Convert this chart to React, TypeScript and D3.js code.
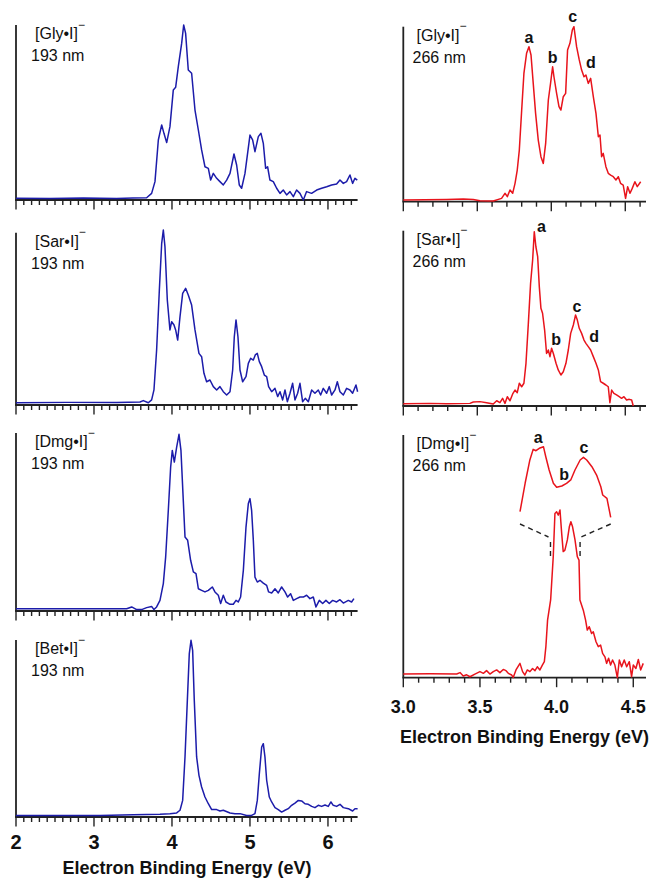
import * as d3 from 'd3';

type Pt = [number, number];

// photoelectron spectra, [binding energy (eV), relative intensity]
const gly193: Pt[] = [
  [2.0, 0.01], [2.436, 0.008], [2.863, 0.011], [3.29, 0.008], [3.5, 0.011], [3.675, 0.013],
  [3.739, 0.038], [3.782, 0.105], [3.825, 0.343], [3.868, 0.429], [3.897, 0.381], [3.932, 0.328],
  [3.974, 0.419], [4.017, 0.629], [4.047, 0.644], [4.081, 0.762], [4.124, 0.895], [4.15, 1.0],
  [4.175, 0.952], [4.209, 0.743], [4.252, 0.724], [4.295, 0.514], [4.338, 0.4], [4.38, 0.286],
  [4.423, 0.19], [4.466, 0.181], [4.496, 0.114], [4.53, 0.152], [4.573, 0.124], [4.615, 0.105],
  [4.658, 0.086], [4.701, 0.114], [4.744, 0.152], [4.795, 0.263], [4.829, 0.2], [4.863, 0.086],
  [4.893, 0.067], [4.936, 0.152], [5.0, 0.371], [5.034, 0.343], [5.064, 0.276], [5.107, 0.362],
  [5.141, 0.381], [5.171, 0.324], [5.201, 0.181], [5.226, 0.19], [5.256, 0.114], [5.299, 0.105],
  [5.342, 0.067], [5.385, 0.038], [5.427, 0.057], [5.47, 0.029], [5.513, 0.048], [5.556, 0.019],
  [5.598, 0.057], [5.641, 0.038], [5.684, 0.0], [5.726, 0.048], [5.79, 0.038], [5.855, 0.057],
  [5.919, 0.067], [5.983, 0.076], [6.047, 0.086], [6.111, 0.091], [6.154, 0.114], [6.197, 0.095],
  [6.239, 0.105], [6.282, 0.143], [6.316, 0.095], [6.346, 0.124], [6.376, 0.114],
];

const sar193: Pt[] = [
  [2.0, 0.013], [2.65, 0.015], [3.29, 0.015], [3.59, 0.017], [3.632, 0.025], [3.697, 0.013],
  [3.739, 0.029], [3.769, 0.086], [3.803, 0.314], [3.838, 0.657], [3.868, 0.924], [3.889, 1.0],
  [3.91, 0.905], [3.94, 0.6], [3.974, 0.429], [3.996, 0.476], [4.026, 0.457], [4.047, 0.429],
  [4.073, 0.371], [4.103, 0.505], [4.137, 0.638], [4.175, 0.667], [4.209, 0.629], [4.252, 0.571],
  [4.295, 0.429], [4.346, 0.295], [4.38, 0.276], [4.41, 0.181], [4.444, 0.133], [4.487, 0.143],
  [4.53, 0.105], [4.573, 0.086], [4.615, 0.105], [4.658, 0.076], [4.701, 0.057], [4.744, 0.076],
  [4.778, 0.2], [4.799, 0.39], [4.821, 0.486], [4.846, 0.39], [4.872, 0.2], [4.906, 0.133],
  [4.949, 0.162], [4.979, 0.238], [5.009, 0.267], [5.043, 0.257], [5.068, 0.286], [5.094, 0.295],
  [5.12, 0.248], [5.15, 0.219], [5.184, 0.171], [5.214, 0.162], [5.239, 0.105], [5.278, 0.076],
  [5.321, 0.095], [5.355, 0.048], [5.385, 0.076], [5.419, 0.029], [5.449, 0.086], [5.479, 0.019],
  [5.513, 0.067], [5.547, 0.124], [5.577, 0.029], [5.611, 0.067], [5.641, 0.124], [5.675, 0.019],
  [5.709, 0.038], [5.748, 0.019], [5.791, 0.086], [5.833, 0.067], [5.876, 0.086], [5.906, 0.057],
  [5.94, 0.095], [5.983, 0.067], [6.017, 0.105], [6.047, 0.057], [6.09, 0.086], [6.12, 0.133],
  [6.154, 0.076], [6.197, 0.057], [6.239, 0.095], [6.282, 0.086], [6.316, 0.067], [6.359, 0.114],
  [6.38, 0.076],
];

const dmg193: Pt[] = [
  [2.0, 0.013], [2.65, 0.013], [3.376, 0.013], [3.419, 0.013], [3.483, 0.023], [3.547, 0.008],
  [3.611, 0.008], [3.675, 0.019], [3.739, 0.026], [3.769, 0.008], [3.803, 0.023], [3.846, 0.06],
  [3.889, 0.155], [3.919, 0.306], [3.953, 0.57], [3.983, 0.815], [4.004, 0.909], [4.03, 0.843],
  [4.06, 0.928], [4.09, 1.0], [4.115, 0.909], [4.145, 0.626], [4.167, 0.419], [4.201, 0.4],
  [4.239, 0.287], [4.274, 0.221], [4.308, 0.211], [4.338, 0.126], [4.38, 0.117], [4.423, 0.108],
  [4.466, 0.117], [4.517, 0.136], [4.551, 0.108], [4.594, 0.089], [4.624, 0.042], [4.658, 0.089],
  [4.692, 0.051], [4.744, 0.038], [4.786, 0.038], [4.821, 0.06], [4.85, 0.051], [4.88, 0.079],
  [4.915, 0.23], [4.949, 0.475], [4.979, 0.608], [5.0, 0.636], [5.021, 0.57], [5.043, 0.4],
  [5.064, 0.192], [5.094, 0.164], [5.128, 0.174], [5.171, 0.158], [5.214, 0.145], [5.239, 0.108],
  [5.278, 0.102], [5.321, 0.126], [5.363, 0.102], [5.406, 0.136], [5.449, 0.108], [5.483, 0.079],
  [5.521, 0.098], [5.556, 0.06], [5.598, 0.07], [5.641, 0.079], [5.684, 0.079], [5.726, 0.089],
  [5.769, 0.07], [5.812, 0.079], [5.846, 0.023], [5.889, 0.06], [5.932, 0.042], [5.974, 0.06],
  [6.017, 0.042], [6.06, 0.06], [6.111, 0.051], [6.154, 0.064], [6.197, 0.045], [6.261, 0.06],
  [6.303, 0.051], [6.333, 0.07],
];

const bet193: Pt[] = [
  [2.0, 0.009], [3.077, 0.009], [3.504, 0.013], [3.846, 0.015], [3.974, 0.019], [4.06, 0.023],
  [4.103, 0.038], [4.137, 0.094], [4.167, 0.34], [4.197, 0.66], [4.222, 0.925], [4.244, 1.0],
  [4.265, 0.943], [4.286, 0.66], [4.316, 0.34], [4.346, 0.236], [4.38, 0.17], [4.423, 0.113],
  [4.466, 0.075], [4.509, 0.042], [4.573, 0.042], [4.615, 0.034], [4.658, 0.038], [4.744, 0.023],
  [4.808, 0.019], [4.872, 0.019], [4.957, 0.009], [5.021, 0.009], [5.064, 0.019], [5.094, 0.094],
  [5.12, 0.245], [5.15, 0.396], [5.171, 0.415], [5.192, 0.34], [5.214, 0.208], [5.248, 0.113],
  [5.278, 0.085], [5.321, 0.053], [5.363, 0.042], [5.406, 0.028], [5.449, 0.038], [5.491, 0.047],
  [5.534, 0.066], [5.577, 0.079], [5.62, 0.094], [5.662, 0.091], [5.705, 0.075], [5.748, 0.072],
  [5.791, 0.06], [5.833, 0.053], [5.876, 0.066], [5.919, 0.06], [5.962, 0.068], [6.004, 0.06],
  [6.038, 0.085], [6.068, 0.066], [6.111, 0.06], [6.154, 0.072], [6.197, 0.053], [6.261, 0.047],
  [6.316, 0.034], [6.346, 0.047], [6.38, 0.047],
];

const gly266: Pt[] = [
  [3.0, 0.01], [3.293, 0.013], [3.405, 0.015], [3.473, 0.013], [3.518, 0.006], [3.608, 0.004],
  [3.664, 0.019], [3.687, 0.048], [3.703, 0.029], [3.721, 0.067], [3.739, 0.048], [3.755, 0.105],
  [3.77, 0.181], [3.784, 0.295], [3.8, 0.524], [3.815, 0.733], [3.833, 0.848], [3.849, 0.886],
  [3.863, 0.838], [3.878, 0.676], [3.894, 0.505], [3.912, 0.352], [3.93, 0.257], [3.946, 0.219],
  [3.962, 0.333], [3.98, 0.581], [3.995, 0.676], [4.009, 0.771], [4.018, 0.714], [4.036, 0.619],
  [4.052, 0.543], [4.065, 0.524], [4.081, 0.6], [4.097, 0.619], [4.11, 0.867], [4.126, 0.905],
  [4.142, 0.981], [4.153, 1.0], [4.171, 0.886], [4.189, 0.81], [4.205, 0.752], [4.221, 0.714],
  [4.234, 0.724], [4.25, 0.676], [4.266, 0.705], [4.284, 0.6], [4.302, 0.505], [4.318, 0.371],
  [4.329, 0.381], [4.34, 0.257], [4.351, 0.276], [4.369, 0.2], [4.385, 0.162], [4.401, 0.152],
  [4.419, 0.143], [4.437, 0.124], [4.453, 0.143], [4.468, 0.105], [4.486, 0.095], [4.502, 0.019],
  [4.516, 0.086], [4.532, 0.048], [4.547, 0.076], [4.565, 0.114], [4.581, 0.086], [4.604, 0.114],
];

const sar266: Pt[] = [
  [3.0, 0.013], [3.18, 0.015], [3.293, 0.013], [3.45, 0.015], [3.473, 0.023], [3.518, 0.025],
  [3.563, 0.019], [3.608, 0.011], [3.631, 0.03], [3.653, 0.019], [3.671, 0.044], [3.687, 0.015],
  [3.703, 0.053], [3.721, 0.03], [3.739, 0.069], [3.755, 0.091], [3.77, 0.076], [3.784, 0.13],
  [3.8, 0.11], [3.815, 0.13], [3.829, 0.244], [3.845, 0.472], [3.86, 0.7], [3.874, 0.834],
  [3.885, 0.996], [3.896, 0.91], [3.908, 0.853], [3.919, 0.682], [3.93, 0.558], [3.941, 0.53],
  [3.955, 0.434], [3.968, 0.3], [3.98, 0.32], [3.991, 0.282], [4.002, 0.33], [4.014, 0.3],
  [4.032, 0.244], [4.047, 0.206], [4.065, 0.177], [4.081, 0.196], [4.099, 0.244], [4.115, 0.32],
  [4.131, 0.415], [4.149, 0.463], [4.164, 0.52], [4.176, 0.491], [4.189, 0.444], [4.205, 0.415],
  [4.221, 0.377], [4.234, 0.358], [4.25, 0.339], [4.266, 0.32], [4.284, 0.282], [4.302, 0.244],
  [4.318, 0.206], [4.333, 0.139], [4.351, 0.13], [4.369, 0.12], [4.385, 0.11], [4.396, 0.019],
  [4.408, 0.091], [4.423, 0.072], [4.441, 0.063], [4.459, 0.053], [4.475, 0.044], [4.491, 0.053],
  [4.509, 0.034], [4.527, 0.038], [4.543, 0.034], [4.554, 0.0],
];

const dmg266: Pt[] = [
  [3.0, 0.015], [3.174, 0.016], [3.348, 0.015], [3.37, 0.021], [3.391, 0.007], [3.413, 0.012],
  [3.435, 0.004], [3.467, 0.015], [3.5, 0.025], [3.522, 0.018], [3.543, 0.029], [3.565, 0.015],
  [3.587, 0.025], [3.609, 0.032], [3.63, 0.021], [3.652, 0.034], [3.67, 0.029], [3.685, 0.018],
  [3.707, 0.011], [3.717, 0.001], [3.735, 0.032], [3.761, 0.059], [3.778, 0.025], [3.793, 0.011],
  [3.809, 0.032], [3.826, 0.025], [3.843, 0.038], [3.859, 0.029], [3.874, 0.045], [3.891, 0.032],
  [3.907, 0.052], [3.92, 0.066], [3.93, 0.128], [3.941, 0.237], [3.961, 0.32], [3.978, 0.498],
  [3.989, 0.676], [4.0, 0.683], [4.011, 0.669], [4.022, 0.69], [4.033, 0.594], [4.043, 0.519],
  [4.054, 0.525], [4.07, 0.567], [4.083, 0.621], [4.093, 0.642], [4.104, 0.621], [4.12, 0.567],
  [4.135, 0.498], [4.146, 0.484], [4.152, 0.32], [4.174, 0.278], [4.189, 0.237], [4.2, 0.196],
  [4.213, 0.21], [4.228, 0.182], [4.239, 0.189], [4.257, 0.148], [4.272, 0.128], [4.287, 0.134],
  [4.3, 0.1], [4.315, 0.086], [4.326, 0.059], [4.339, 0.08], [4.352, 0.052], [4.365, 0.073],
  [4.38, 0.052], [4.396, 0.0], [4.409, 0.073], [4.424, 0.045], [4.441, 0.073], [4.457, 0.045],
  [4.474, 0.066], [4.489, 0.004], [4.5, 0.052], [4.517, 0.038], [4.533, 0.075], [4.548, 0.032],
  [4.565, 0.059],
];

// magnified top of the [Dmg•I]- 266 nm peak
const dmg266Zoom: Pt[] = [
  [3.96, 0.156], [3.971, 0.494], [3.981, 0.765], [3.988, 0.89], [3.994, 0.874], [4.001, 0.902],
  [4.01, 0.92], [4.015, 0.8], [4.022, 0.647], [4.031, 0.49], [4.038, 0.443], [4.049, 0.459],
  [4.059, 0.49], [4.068, 0.53], [4.077, 0.647], [4.088, 0.765], [4.095, 0.796], [4.102, 0.765],
  [4.113, 0.686], [4.123, 0.588], [4.132, 0.45], [4.136, 0.353], [4.145, 0.314], [4.153, 0.09],
];

type Lbl = { t: string; e: number; v: number };
const gly266Labels: Lbl[] = [
  { t: 'a', e: 3.849, v: 0.905 }, { t: 'b', e: 4.009, v: 0.791 },
  { t: 'c', e: 4.144, v: 1.029 }, { t: 'd', e: 4.268, v: 0.762 },
];
const sar266Labels: Lbl[] = [
  { t: 'a', e: 3.933, v: 0.993 }, { t: 'b', e: 4.032, v: 0.347 },
  { t: 'c', e: 4.174, v: 0.539 }, { t: 'd', e: 4.29, v: 0.367 },
];
const dmgZoomLabels: Lbl[] = [
  { t: 'a', e: 3.999, v: 0.961 }, { t: 'b', e: 4.054, v: 0.53 }, { t: 'c', e: 4.096, v: 0.844 },
];

const leftTicks = [2, 3, 4, 5, 6];
const rightTicks = [3.0, 3.5, 4.0, 4.5];
const axisTitle = 'Electron Binding Energy (eV)';

const FONT = '"Liberation Sans", Arial, Helvetica, sans-serif';
const BLUE = '#1c1caa';
const RED = '#e8141c';

const xLeft = d3.scaleLinear().domain([2, 6.38]).range([16, 357.6]);
const xRightTop = d3.scaleLinear().domain([3, 4.64]).range([403.3, 646]);
const xRightBot = d3.scaleLinear().domain([3, 4.583]).range([403.3, 646]);

type Panel = {
  name: string; nm: string; data: Pt[]; x: d3.ScaleLinear<number, number>;
  base: number; top: number; h: number; color: string; labelX: number;
  labels?: Lbl[];
};

const panels: Panel[] = [
  { name: 'Gly', nm: '193 nm', data: gly193, x: xLeft, base: 200, top: 25, h: 175, color: BLUE, labelX: 35 },
  { name: 'Sar', nm: '193 nm', data: sar193, x: xLeft, base: 405, top: 232.7, h: 175, color: BLUE, labelX: 35 },
  { name: 'Dmg', nm: '193 nm', data: dmg193, x: xLeft, base: 611, top: 433, h: 176.7, color: BLUE, labelX: 35 },
  { name: 'Bet', nm: '193 nm', data: bet193, x: xLeft, base: 817, top: 640, h: 176.7, color: BLUE, labelX: 35 },
  { name: 'Gly', nm: '266 nm', data: gly266, x: xRightTop, base: 201.7, top: 26.7, h: 175, color: RED, labelX: 416.5, labels: gly266Labels },
  { name: 'Sar', nm: '266 nm', data: sar266, x: xRightTop, base: 406, top: 230.7, h: 175, color: RED, labelX: 416.5, labels: sar266Labels },
  { name: 'Dmg', nm: '266 nm', data: dmg266, x: xRightBot, base: 677.7, top: 435, h: 243, color: RED, labelX: 416.5 },
];

function PanelView({ p }: { p: Panel }) {
  const y = d3.scaleLinear().domain([0, 1]).range([p.base, p.base - p.h]);
  const line = d3.line<Pt>().x((d) => p.x(d[0])).y((d) => y(d[1]));
  const [d0, d1] = p.x.domain();
  const left = p.x === xLeft;
  const minor = d3.range(Math.round(d0 * 10), Math.floor(d1 * 10 + 1e-6) + 1).map((i) => i / 10);
  const isMajor = (v: number) => (left ? Math.abs(v - Math.round(v)) < 1e-6 : Math.abs(v * 2 - Math.round(v * 2)) < 1e-6);
  const [r0, r1] = p.x.range();
  return (
    <g>
      <line x1={r0} x2={r0} y1={p.top} y2={p.base} stroke="#222" strokeWidth={1.8} />
      <line x1={r0 - 0.9} x2={r1} y1={p.base} y2={p.base} stroke="#222" strokeWidth={1.8} />
      {minor.map((v) => (
        <line key={v} x1={p.x(v)} x2={p.x(v)} y1={p.base} y2={p.base + (isMajor(v) ? 9.5 : 5)}
          stroke="#222" strokeWidth={1.4} />
      ))}
      <path d={line(p.data) ?? ''} fill="none" stroke={p.color} strokeWidth={1.5} strokeLinejoin="round" />
      <text x={p.labelX} y={p.top + 14} fontSize={16} fontFamily={FONT} fill="#111">
        [{p.name}•I]<tspan dy={-10.5} fontSize={12}>−</tspan>
      </text>
      <text x={p.labelX - 4} y={p.top + 36} fontSize={16} fontFamily={FONT} fill="#111">{p.nm}</text>
      {(p.labels ?? []).map((l) => (
        <text key={l.t} x={p.x(l.e)} y={y(l.v)} textAnchor="middle" fontSize={16} fontWeight="bold"
          fontFamily={FONT} fill="#111">{l.t}</text>
      ))}
    </g>
  );
}

export default function App() {
  const xInset = d3.scaleLinear().domain([3.96, 4.153]).range([520, 610.7]);
  const yInset = d3.scaleLinear().domain([0, 1]).range([525, 440]);
  const insetLine = d3.line<Pt>().x((d) => xInset(d[0])).y((d) => yInset(d[1]));
  const [e0, e1] = xInset.domain();
  return (
    <svg width={654} height={879} style={{ position: 'absolute', left: 0, top: 0, background: '#fff' }}>
      {panels.map((p, i) => <PanelView key={i} p={p} />)}

      {/* inset of the Dmg 266 nm peak */}
      <path d={insetLine(dmg266Zoom) ?? ''} fill="none" stroke={RED} strokeWidth={1.5} strokeLinejoin="round" />
      {dmgZoomLabels.map((l) => (
        <text key={l.t} x={xInset(l.e)} y={yInset(l.v)} textAnchor="middle" fontSize={16} fontWeight="bold"
          fontFamily={FONT} fill="#111">{l.t}</text>
      ))}
      <g stroke="#222" strokeWidth={1.4} strokeDasharray="5,4" fill="none">
        <line x1={xInset(e0)} y1={524} x2={xRightBot(e0) - 2} y2={537} />
        <line x1={xRightBot(e0)} y1={542} x2={xRightBot(e0)} y2={560} />
        <line x1={xInset(e1)} y1={524} x2={xRightBot(e1) + 1} y2={537} />
        <line x1={xRightBot(e1)} y1={542} x2={xRightBot(e1)} y2={560} />
      </g>

      {leftTicks.map((t) => (
        <text key={t} x={xLeft(t)} y={849} textAnchor="middle" fontSize={20} fontWeight="bold"
          fontFamily={FONT} fill="#111">{t}</text>
      ))}
      <text x={187} y={874} textAnchor="middle" fontSize={18} fontWeight="bold" fontFamily={FONT} fill="#111">
        {axisTitle}
      </text>

      {rightTicks.map((t) => (
        <text key={t} x={xRightBot(t)} y={712.7} textAnchor="middle" fontSize={18} fontWeight="bold"
          fontFamily={FONT} fill="#111">{t.toFixed(1)}</text>
      ))}
      <text x={524.6} y={743} textAnchor="middle" fontSize={18} fontWeight="bold" fontFamily={FONT} fill="#111">
        {axisTitle}
      </text>
    </svg>
  );
}
